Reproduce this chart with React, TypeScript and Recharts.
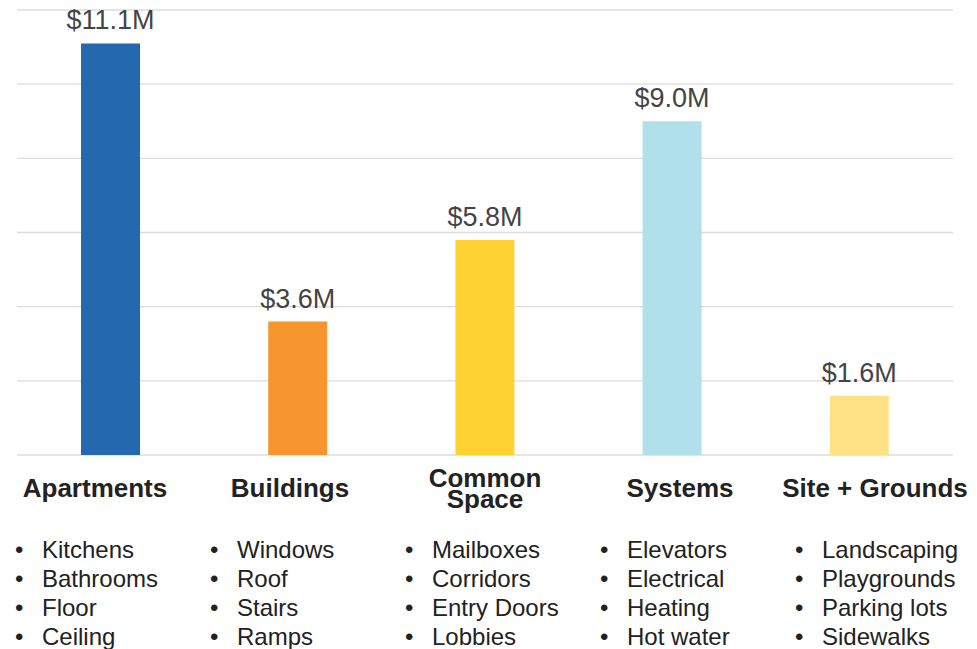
import React from 'react';
import { BarChart, Bar, XAxis, YAxis, CartesianGrid, Cell, LabelList } from 'recharts';

const categories = ['Apartments', 'Buildings', 'Common Space', 'Systems', 'Site + Grounds'];
const headingLines = [['Apartments'], ['Buildings'], ['Common', 'Space'], ['Systems'], ['Site + Grounds']];
const costs = [11.1, 3.6, 5.8, 9.0, 1.6];
const barColors = ['#2468b0', '#f7962f', '#ffd233', '#b0e0ea', '#ffe285'];
const subItems = [
  ['Kitchens', 'Bathrooms', 'Floor', 'Ceiling'],
  ['Windows', 'Roof', 'Stairs', 'Ramps'],
  ['Mailboxes', 'Corridors', 'Entry Doors', 'Lobbies'],
  ['Elevators', 'Electrical', 'Heating', 'Hot water'],
  ['Landscaping', 'Playgrounds', 'Parking lots', 'Sidewalks'],
];
const yTicks = [0, 2, 4, 6, 8, 10, 12];

const data = categories.map((c, i) => ({ category: c, cost: costs[i] }));

const font = '"Liberation Sans", Arial, Helvetica, sans-serif';

function CategoryTick(props: any) {
  const { x, y, payload } = props;
  const i = categories.indexOf(payload.value);
  const lines = headingLines[i] || [payload.value];
  const top = y - 30;
  const firstY = lines.length > 1 ? top + 32 : top + 42;
  return (
    <g>
      {lines.map((l, k) => (
        <text key={l} x={x} y={firstY + k * 21} textAnchor="middle" fontFamily={font}
          fontSize={26} fontWeight={700} fill="#222">{l}</text>
      ))}
      {(subItems[i] || []).map((s, k) => (
        <g key={s}>
          <text x={x - 80} y={top + 103 + k * 29} fontFamily={font} fontSize={24} fill="#222">•</text>
          <text x={x - 53} y={top + 103 + k * 29} fontFamily={font} fontSize={24} fill="#222">{s}</text>
        </g>
      ))}
    </g>
  );
}

export default function App() {
  return (
    <div style={{ position: 'absolute', left: 0, top: 0, width: 977, height: 649, background: '#fff' }}>
      <BarChart width={977} height={649} data={data} margin={{ top: 10, right: 24, left: 17, bottom: 0 }}>
        <CartesianGrid vertical={false} stroke="#dcdcdc" strokeWidth={1.3} />
        <XAxis xAxisId="bars" dataKey="category" hide />
        <XAxis xAxisId="text" dataKey="category" height={194} axisLine={false} tickLine={false}
          tickSize={0} tickMargin={0} interval={0} padding={{ left: -19.5, right: -19.5 }}
          tick={<CategoryTick />} />
        <YAxis hide domain={[0, 12]} ticks={yTicks} />
        <Bar xAxisId="bars" dataKey="cost" barSize={59} isAnimationActive={false}>
          {data.map((d, i) => (
            <Cell key={d.category} fill={barColors[i]} />
          ))}
          <LabelList dataKey="cost" position="top" offset={14} fill="#444" fontSize={27}
            fontFamily={font} formatter={(v: any) => `$${Number(v).toFixed(1)}M`} />
        </Bar>
      </BarChart>
    </div>
  );
}
